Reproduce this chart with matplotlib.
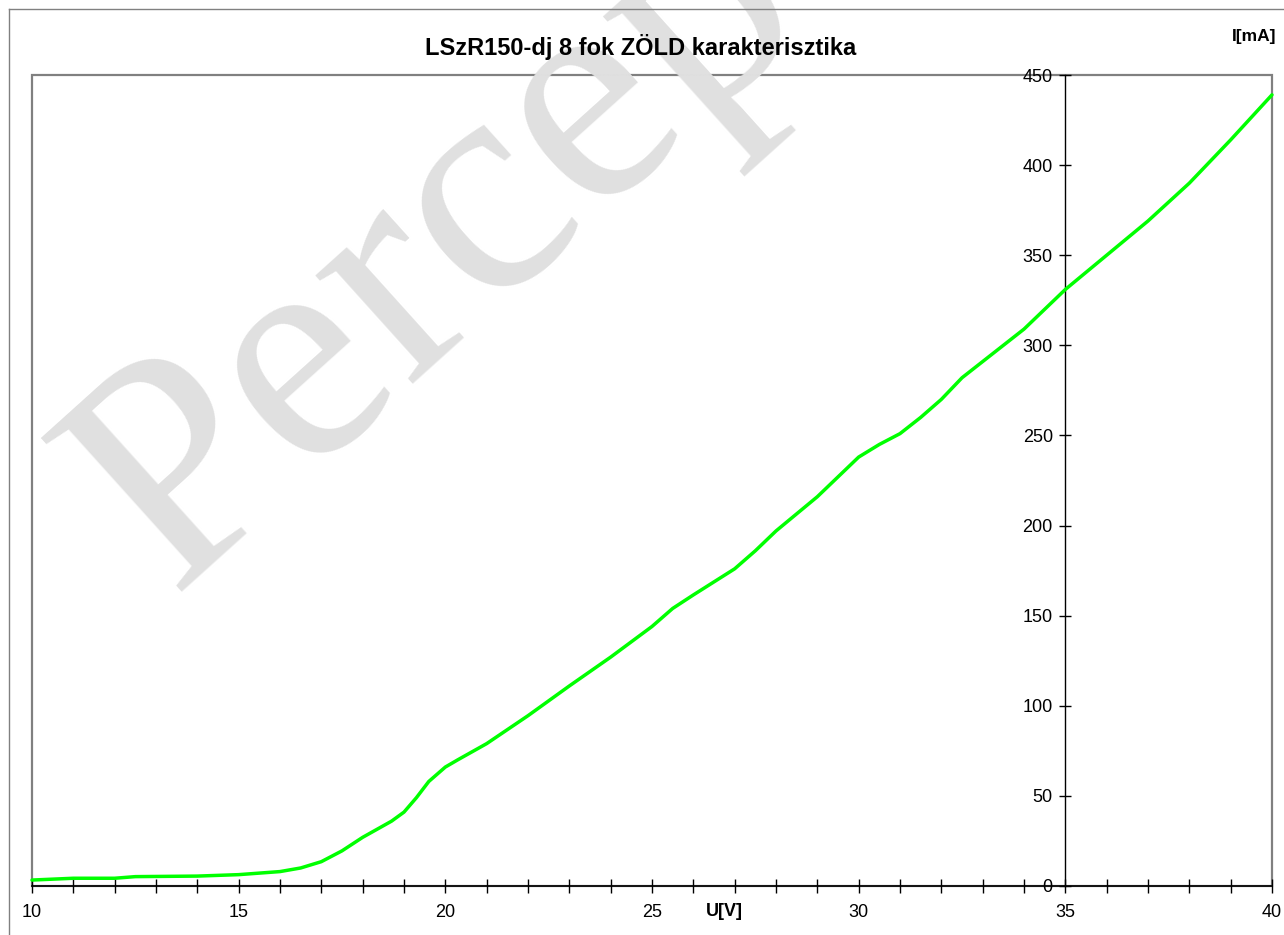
import matplotlib
matplotlib.use("Agg")
import matplotlib.pyplot as plt
from matplotlib.patches import Rectangle
from matplotlib.lines import Line2D
from matplotlib.ticker import MultipleLocator

plt.rcParams['font.family'] = ['Liberation Sans', 'DejaVu Sans']

# Data: voltage U [V] vs current I [mA]
u_volts = [10, 11, 12, 12.5, 13, 14, 15, 16, 16.5, 17, 17.5, 18, 18.7, 19, 19.3, 19.6,
           20, 20.3, 21, 22, 23, 24, 25, 25.5, 26, 27, 27.5, 28, 29, 29.5, 30,
           30.5, 31, 31.5, 32, 32.5, 33, 34, 35, 36, 37, 38, 39, 40]
i_ma = [3.3, 4.3, 4.3, 5.2, 5.3, 5.5, 6.3, 8.0, 10.0, 13.5, 19.5, 27.0, 36.0, 41.0, 49.0, 58.0,
        66.0, 70.0, 79.0, 94.5, 111.0, 127.0, 144.0, 154.0, 161.5, 176.0, 186.0, 197.0, 216.0, 227.0, 238.0,
        245.0, 251.0, 260.0, 270.0, 282.0, 291.0, 309.0, 331.0, 350.0, 369.0, 390.0, 414.0, 439.0]

x_major_ticks = [10, 15, 20, 25, 30, 35, 40]
y_major_ticks = [0, 50, 100, 150, 200, 250, 300, 350, 400, 450]

title_text = "LSzR150-dj 8 fok ZÖLD karakterisztika"
x_label = "U[V]"
y_label = "I[mA]"

W, H = 1284, 935
fig = plt.figure(figsize=(W / 100, H / 100), dpi=100)
fig.patch.set_facecolor('white')

# watermark
fig.text(0.343, 0.735, "Percep", family=['Liberation Serif', 'DejaVu Serif'],
         fontsize=228, color='#e0e0e0', rotation=42, ha='center', va='center',
         zorder=0)

left, right = 32 / W, 1272 / W
bottom, top = (H - 886) / H, (H - 75) / H
ax = fig.add_axes([left, bottom, right - left, top - bottom])
ax.patch.set_alpha(0)

ax.plot(u_volts, i_ma, color='#00ff00', lw=2.5, solid_capstyle='round',
        solid_joinstyle='round', zorder=3, clip_on=False)

ax.set_xlim(10, 40)
ax.set_ylim(0, 450)

# border of plot area (gray)
ax.add_patch(Rectangle((0, 0), 1, 1, transform=ax.transAxes, fill=False,
                       edgecolor='#808080', lw=1.6, zorder=1, clip_on=False))

for s in ['top', 'right']:
    ax.spines[s].set_visible(False)
ax.spines['left'].set_position(('data', 35))
ax.spines['left'].set_color('black')
ax.spines['left'].set_linewidth(1.0)
ax.spines['bottom'].set_color('black')
ax.spines['bottom'].set_linewidth(1.2)
ax.spines['left'].set_zorder(2)
ax.spines['bottom'].set_zorder(2)

ax.xaxis.set_major_locator(MultipleLocator(5))
ax.xaxis.set_minor_locator(MultipleLocator(1))
ax.set_xticks(x_major_ticks)
ax.set_yticks(y_major_ticks)
ax.tick_params(axis='x', which='both', direction='inout', length=9.5, width=1.0,
               labelsize=13, pad=8, colors='black')
ax.tick_params(axis='y', which='major', direction='inout', length=8, width=1.0,
               labelsize=13, pad=5, colors='black')
ax.tick_params(axis='y', which='minor', left=False)

# titles and labels
fig.text(641 / W, 1 - 47 / H, title_text, ha='center', va='center',
         fontsize=17, fontweight='bold')
fig.text(1254 / W, 1 - 36 / H, y_label, ha='center', va='center',
         fontsize=12.5, fontweight='bold')
fig.text(724.5 / W, 1 - 911.5 / H, x_label, ha='center', va='center',
         fontsize=13, fontweight='bold')

# outer chart border (partially visible)
fig.add_artist(Line2D([9 / W, 1.0], [1 - 9 / H, 1 - 9 / H], color='#808080', lw=1.0))
fig.add_artist(Line2D([9 / W, 9 / W], [0.0, 1 - 9 / H], color='#808080', lw=1.0))

fig.savefig("out.png", dpi=100, facecolor='white')
